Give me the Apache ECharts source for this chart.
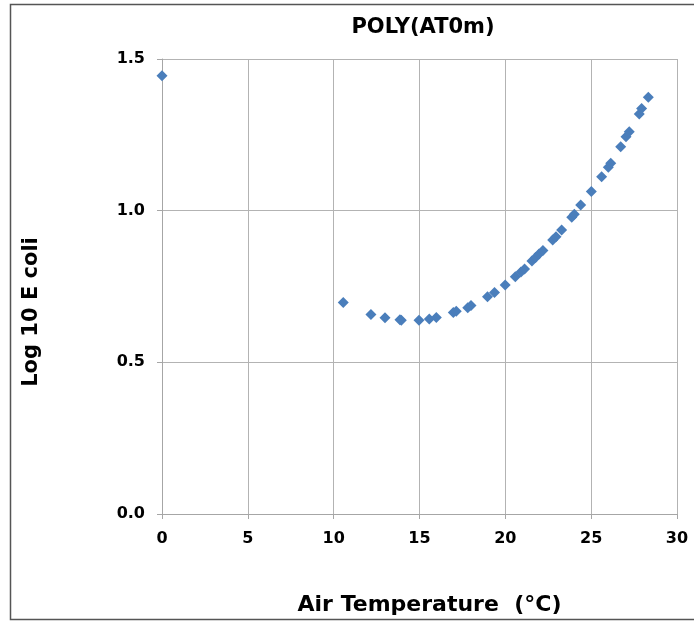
<!DOCTYPE html>
<html>
<head>
<meta charset="utf-8">
<script src="https://cdn.jsdelivr.net/npm/echarts@6/dist/echarts.min.js"></script>
<style>
  html, body { margin: 0; padding: 0; background: #fff; }
  #chart { width: 694px; height: 622px; }
</style>
</head>
<body>
<div id="chart"></div>
<script>
// air temperature (°C)
const airTemp = [
  0, 10.56, 12.17, 12.99, 13.86, 13.94, 14.97, 15.57, 15.98, 16.97,
  17.14, 17.81, 18.0, 18.96, 19.37, 19.99, 20.58, 20.91, 21.12, 21.55,
  21.76, 21.96, 22.19, 22.76, 22.95, 23.28, 23.87, 24.02, 24.39, 25.01,
  25.61, 26.0, 26.14, 26.72, 27.03, 27.22, 27.8, 27.94, 28.33
];
// log10 E. coli
const logEcoli = [
  1.445, 0.697, 0.658, 0.647, 0.640, 0.639, 0.639, 0.643, 0.648, 0.664,
  0.668, 0.680, 0.687, 0.716, 0.730, 0.755, 0.782, 0.798, 0.808, 0.834,
  0.846, 0.857, 0.869, 0.903, 0.914, 0.936, 0.978, 0.988, 1.019, 1.063,
  1.112, 1.143, 1.156, 1.211, 1.244, 1.260, 1.319, 1.337, 1.374
];
const xTicks = [0, 5, 10, 15, 20, 25, 30];
const yTicks = [0.0, 0.5, 1.0, 1.5];

const chart = echarts.init(document.getElementById('chart'), null, { renderer: 'canvas' });
const font = 'DejaVu Sans';

const option = {
  animation: false,
  backgroundColor: '#fff',
  title: {
    text: 'POLY(AT0m)',
    left: 418,
    textAlign: 'center',
    top: 12,
    textStyle: { fontFamily: font, fontWeight: 'bold', fontSize: 21, color: '#000' }
  },
  graphic: [{
    type: 'rect',
    shape: { x: 10.5, y: 4.5, width: 700, height: 615 },
    style: { fill: 'none', stroke: '#555', lineWidth: 1.5 },
    silent: true
  }, {
    // y axis title, placed a bit below the axis middle as in the original
    type: 'text',
    x: 32,
    y: 312,
    rotation: Math.PI / 2,
    style: {
      text: 'Log 10 E coli',
      fontFamily: font, fontWeight: 'bold', fontSize: 21, fill: '#000',
      textAlign: 'center', textVerticalAlign: 'middle'
    },
    silent: true
  }],
  grid: { left: 162, right: 17, top: 59, bottom: 108 },
  xAxis: {
    type: 'value',
    min: xTicks[0],
    max: xTicks[xTicks.length - 1],
    interval: 5,
    name: 'Air Temperature  (°C)',
    nameLocation: 'middle',
    nameGap: 80,
    nameTextStyle: {
      fontFamily: font, fontWeight: 'bold', fontSize: 22, color: '#000',
      padding: [0, 0, 0, 20]
    },
    axisLine: { show: true, lineStyle: { color: '#a6a6a6' } },
    axisTick: { show: true, length: 5, lineStyle: { color: '#a6a6a6' } },
    axisLabel: { fontFamily: font, fontWeight: 'bold', fontSize: 16, color: '#000', margin: 17 },
    splitLine: { show: true, lineStyle: { color: '#b3b3b3' } }
  },
  yAxis: {
    type: 'value',
    min: yTicks[0],
    max: yTicks[yTicks.length - 1],
    interval: 0.5,
    axisLine: { show: true, lineStyle: { color: '#a6a6a6' } },
    axisTick: { show: true, length: 5, lineStyle: { color: '#a6a6a6' } },
    axisLabel: {
      fontFamily: font, fontWeight: 'bold', fontSize: 16, color: '#000', margin: 17,
      formatter: v => v.toFixed(1)
    },
    splitLine: { show: true, lineStyle: { color: '#b3b3b3' } }
  },
  series: [{
    type: 'scatter',
    symbol: 'diamond',
    symbolSize: 11,
    itemStyle: { color: '#4a7ebb', opacity: 1 },
    data: airTemp.map((x, i) => [x, logEcoli[i]])
  }]
};

chart.setOption(option);
</script>
</body>
</html>
